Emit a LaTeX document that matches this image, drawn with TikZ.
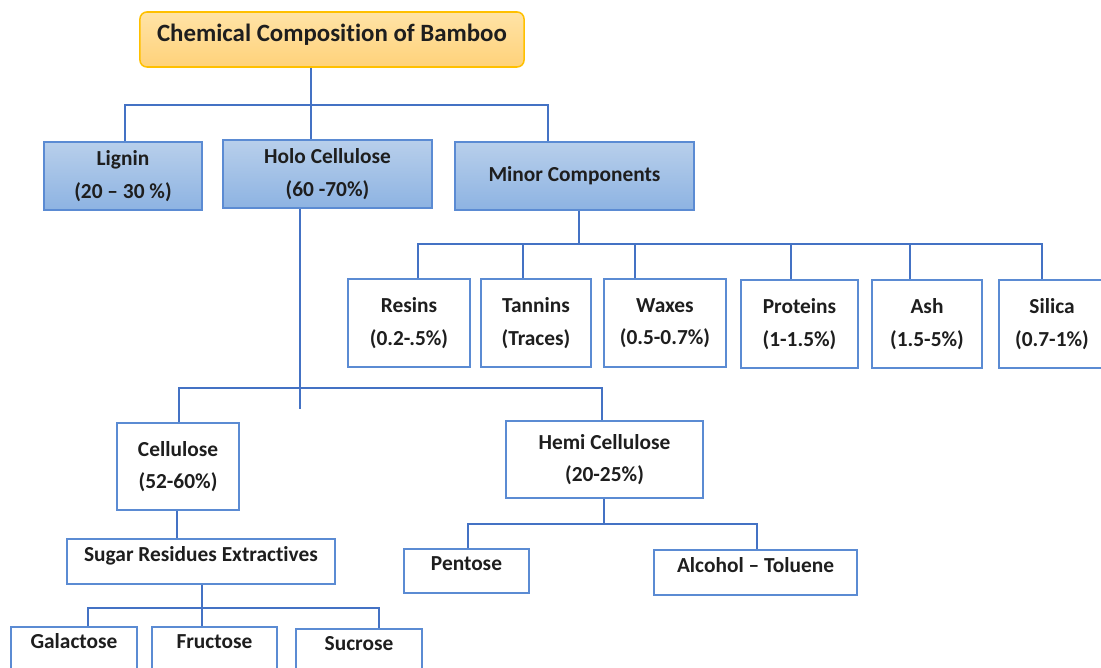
\documentclass[tikz,border=0pt]{standalone}
\usepackage{fontspec}
\setmainfont{Carlito}[Ligatures=NoCommon]
\usetikzlibrary{calc}
\definecolor{linkblue}{HTML}{4472C4}
\definecolor{edgeblue}{HTML}{5B8BD3}
\definecolor{topblue}{HTML}{B8CFEB}
\definecolor{botblue}{HTML}{8DB3E2}
\definecolor{rootedge}{HTML}{FFC000}
\definecolor{roottop}{HTML}{FFE3A6}
\definecolor{rootbot}{HTML}{FFD27A}
\definecolor{ink}{HTML}{1E1E1E}

\begin{document}
\begin{tikzpicture}[x=0.025cm, y=-0.025cm,
    link/.style={draw=linkblue, line width=1.1pt},
    plainbox/.style={draw=edgeblue, line width=1.1pt, fill=white, align=center, text=ink,
      font=\bfseries\fontsize{15.2}{23}\selectfont, inner sep=0pt},
    bluebox/.style={plainbox, top color=topblue, bottom color=botblue},
    rootbox/.style={draw=rootedge, line width=1.1pt, rounded corners=5pt, top color=roottop,
      bottom color=rootbot, text=ink, font=\bfseries\fontsize{17.7}{20}\selectfont,
      inner sep=0pt, text depth=10pt},
    highbox/.style={plainbox, text depth=10pt},
    cutbox/.style={plainbox, text depth=15pt}]
  \useasboundingbox (0,0) rectangle (1101,668);

  % top level
  \node[rootbox, minimum width=9.6cm, minimum height=1.375cm] (root) at (332,39.5) {Chemical Composition of Bamboo};
  \node[bluebox, minimum width=3.95cm, minimum height=1.7cm] (lignin) at (123,176) {Lignin\\(20 – 30 \%)};
  \node[bluebox, minimum width=5.225cm, minimum height=1.7cm] (holo) at (327.5,174) {Holo Cellulose\\(60 -70\%)};
  \node[bluebox, minimum width=5.975cm, minimum height=1.7cm] (minor) at (574.5,176) {Minor Components};

  % minor components
  \node[plainbox, minimum width=3.05cm, minimum height=2.2cm] (resins) at (409,323) {Resins\\(0.2-.5\%)};
  \node[plainbox, minimum width=2.75cm, minimum height=2.2cm] (tannins) at (536,323) {Tannins\\(Traces)};
  \node[plainbox, minimum width=3.05cm, minimum height=2.2cm] (waxes) at (665,323) {Waxes\\(0.5-0.7\%)};
  \node[plainbox, minimum width=2.925cm, minimum height=2.2cm] (proteins) at (799.5,324) {Proteins\\(1-1.5\%)};
  \node[plainbox, minimum width=2.75cm, minimum height=2.2cm] (ash) at (927,324) {Ash\\(1.5-5\%)};
  \node[plainbox, minimum width=2.65cm, minimum height=2.2cm] (silica) at (1052,324) {Silica\\(0.7-1\%)};

  % holo cellulose
  \node[plainbox, minimum width=3.05cm, minimum height=2.175cm] (cellulose) at (178,466.5) {Cellulose\\(52-60\%)};
  \node[plainbox, minimum width=4.925cm, minimum height=1.925cm] (hemi) at (604.5,459.5) {Hemi Cellulose\\(20-25\%)};
  \node[highbox, minimum width=6.7cm, minimum height=1.125cm] (sugar) at (201,561.5) {Sugar Residues Extractives};
  \node[highbox, minimum width=3.125cm, minimum height=1.1cm] (pentose) at (466.5,571) {Pentose};
  \node[highbox, minimum width=5.075cm, minimum height=1.125cm] (alcohol) at (755.5,572.5) {Alcohol – Toluene};
  \node[cutbox, minimum width=3.15cm, minimum height=1.25cm] (galactose) at (74,652) {Galactose};
  \node[cutbox, minimum width=3.125cm, minimum height=1.25cm] (fructose) at (214.5,652) {Fructose};
  \node[cutbox, minimum width=3.15cm, minimum height=1.25cm] (sucrose) at (359,654) {Sucrose};

  % connectors
  \draw[link] ($(root.south)+(-21,0)$) -- ++(0,37) coordinate (rbar);
  \draw[link] ($(lignin.north)+(2,0)$) |- (rbar);
  \draw[link] ($(holo.north)+(-16.5,0)$) |- (rbar);
  \draw[link] ($(minor.north)+(-26.5,0)$) |- (rbar);

  \draw[link] ($(minor.south)+(4.5,0)$) -- ++(0,33) coordinate (mbar);
  \foreach \n/\dx in {resins/9, tannins/-13, waxes/-30, proteins/-8.5, ash/-17, silica/-10}
    \draw[link] ($(\n.north)+(\dx,0)$) |- (mbar);

  \draw[link] ($(holo.south)+(-27.5,0)$) -- ++(0,200);
  \coordinate (hbar) at ($(holo.south)+(-27.5,179)$);
  \draw[link] ($(cellulose.north)+(1,0)$) |- (hbar);
  \draw[link] ($(hemi.north)+(-2.5,0)$) |- (hbar);

  \draw[link] ($(cellulose.south)+(-1,0)$) -- ($(sugar.north)+(-24,0)$);

  \draw[link] ($(sugar.south)+(1,0)$) -- ++(0,23) coordinate (sbar);
  \foreach \n/\dx in {galactose/14, fructose/-12.5, sucrose/20}
    \draw[link] ($(\n.north)+(\dx,0)$) |- (sbar);

  \draw[link] ($(hemi.south)+(-0.5,0)$) -- ++(0,25) coordinate (ebar);
  \draw[link] ($(pentose.north)+(1.5,0)$) |- (ebar);
  \draw[link] ($(alcohol.north)+(1.5,0)$) |- (ebar);
\end{tikzpicture}
\end{document}
